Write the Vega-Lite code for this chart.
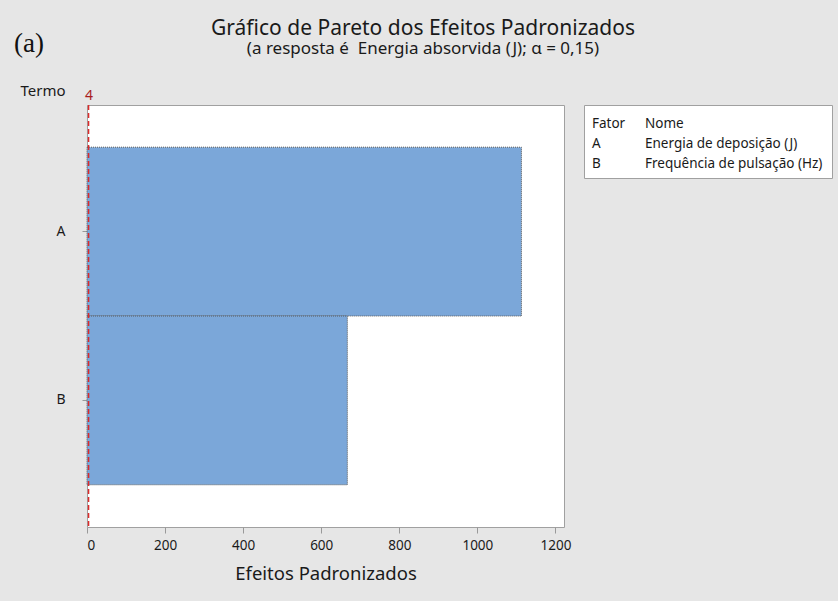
{
  "$schema": "https://vega.github.io/schema/vega-lite/v6.json",
  "background": "#e6e6e6",
  "padding": {"left": 13, "top": 17, "right": 5, "bottom": 17},
  "title": {
    "text": "Gráfico de Pareto dos Efeitos Padronizados",
    "subtitle": "(a resposta é\u00a0 Energia absorvida (J); α = 0,15)",
    "anchor": "middle",
    "frame": "bounds",
    "font": "Noto Sans",
    "subtitleFont": "Noto Sans",
    "fontSize": 21,
    "subtitleFontSize": 17,
    "fontWeight": "normal",
    "color": "#1a1a1a",
    "subtitleColor": "#1a1a1a",
    "subtitlePadding": 2,
    "offset": -27
  },
  "bounds": "flush",
  "spacing": 20,
  "config": {
    "font": "Noto Sans",
    "view": {"fill": "white", "stroke": "#a0a0a0", "strokeWidth": 1},
    "axis": {
      "labelFont": "Noto Sans",
      "titleFont": "Noto Sans",
      "labelColor": "#1a1a1a",
      "titleColor": "#1a1a1a",
      "tickColor": "#999999",
      "domain": false,
      "grid": false,
      "labelFontSize": 13.5,
      "titleFontWeight": "normal"
    }
  },
  "hconcat": [
    {
      "width": 477,
      "height": 422,
      "title": {
        "text": "(a)",
        "anchor": "start",
        "frame": "bounds",
        "font": "Liberation Serif",
        "fontSize": 27,
        "fontWeight": "normal",
        "color": "#111111",
        "offset": 25,
        "dx": -6
      },
      "data": {"values": [
        {"Termo": "A", "Efeito": 1113},
        {"Termo": "B", "Efeito": 667}
      ]},
      "layer": [
        {
          "mark": {"type": "bar", "fill": "#7ba7d9", "stroke": "#5a5a5a", "strokeWidth": 1, "strokeDash": [1, 1]},
          "encoding": {
            "y": {
              "field": "Termo",
              "type": "nominal",
              "scale": {"paddingInner": 0, "paddingOuter": 0.25},
              "axis": {
                "title": "Termo",
                "titleAngle": 0,
                "titleAlign": "right",
                "titleBaseline": "alphabetic",
                "titleX": -22,
                "titleY": -10,
                "titleFontSize": 15,
                "labelFontSize": 14,
                "labelPadding": 17,
                "tickSize": 5,
                "labelAngle": 0
              }
            },
            "x": {
              "field": "Efeito",
              "type": "quantitative",
              "scale": {"domain": [0, 1222], "nice": false},
              "axis": {
                "title": "Efeitos Padronizados",
                "values": [0, 200, 400, 600, 800, 1000, 1200],
                "format": "d",
                "titleFontSize": 18.5,
                "titlePadding": 13,
                "tickSize": 6,
                "labelPadding": 5
              }
            }
          }
        },
        {
          "data": {"values": [{"critico": 4}]},
          "mark": {"type": "rule", "color": "#dc2b2b", "strokeDash": [5, 3], "strokeWidth": 1.5},
          "encoding": {
            "x": {
              "field": "critico",
              "type": "quantitative",
              "axis": {
                "orient": "top",
                "values": [4],
                "title": null,
                "ticks": false,
                "labelColor": "#a81e1e",
                "labelPadding": 3,
                "labelFontSize": 14
              }
            }
          }
        }
      ],
      "resolve": {"axis": {"x": "independent"}}
    },
    {
      "width": 248,
      "height": 73,
      "data": {"values": [
        {"linha": 1, "coluna": "c1", "texto": "Fator"},
        {"linha": 1, "coluna": "c2", "texto": "Nome"},
        {"linha": 2, "coluna": "c1", "texto": "A"},
        {"linha": 2, "coluna": "c2", "texto": "Energia de deposição (J)"},
        {"linha": 3, "coluna": "c1", "texto": "B"},
        {"linha": 3, "coluna": "c2", "texto": "Frequência de pulsação (Hz)"}
      ]},
      "mark": {"type": "text", "align": "left", "baseline": "middle", "fontSize": 13.5, "color": "#1a1a1a"},
      "encoding": {
        "x": {"field": "coluna", "type": "ordinal", "scale": {"type": "point", "range": [8, 61], "padding": 0}, "axis": null},
        "y": {"field": "linha", "type": "ordinal", "scale": {"type": "point", "range": [19, 59], "padding": 0}, "axis": null},
        "text": {"field": "texto"}
      }
    }
  ]
}
